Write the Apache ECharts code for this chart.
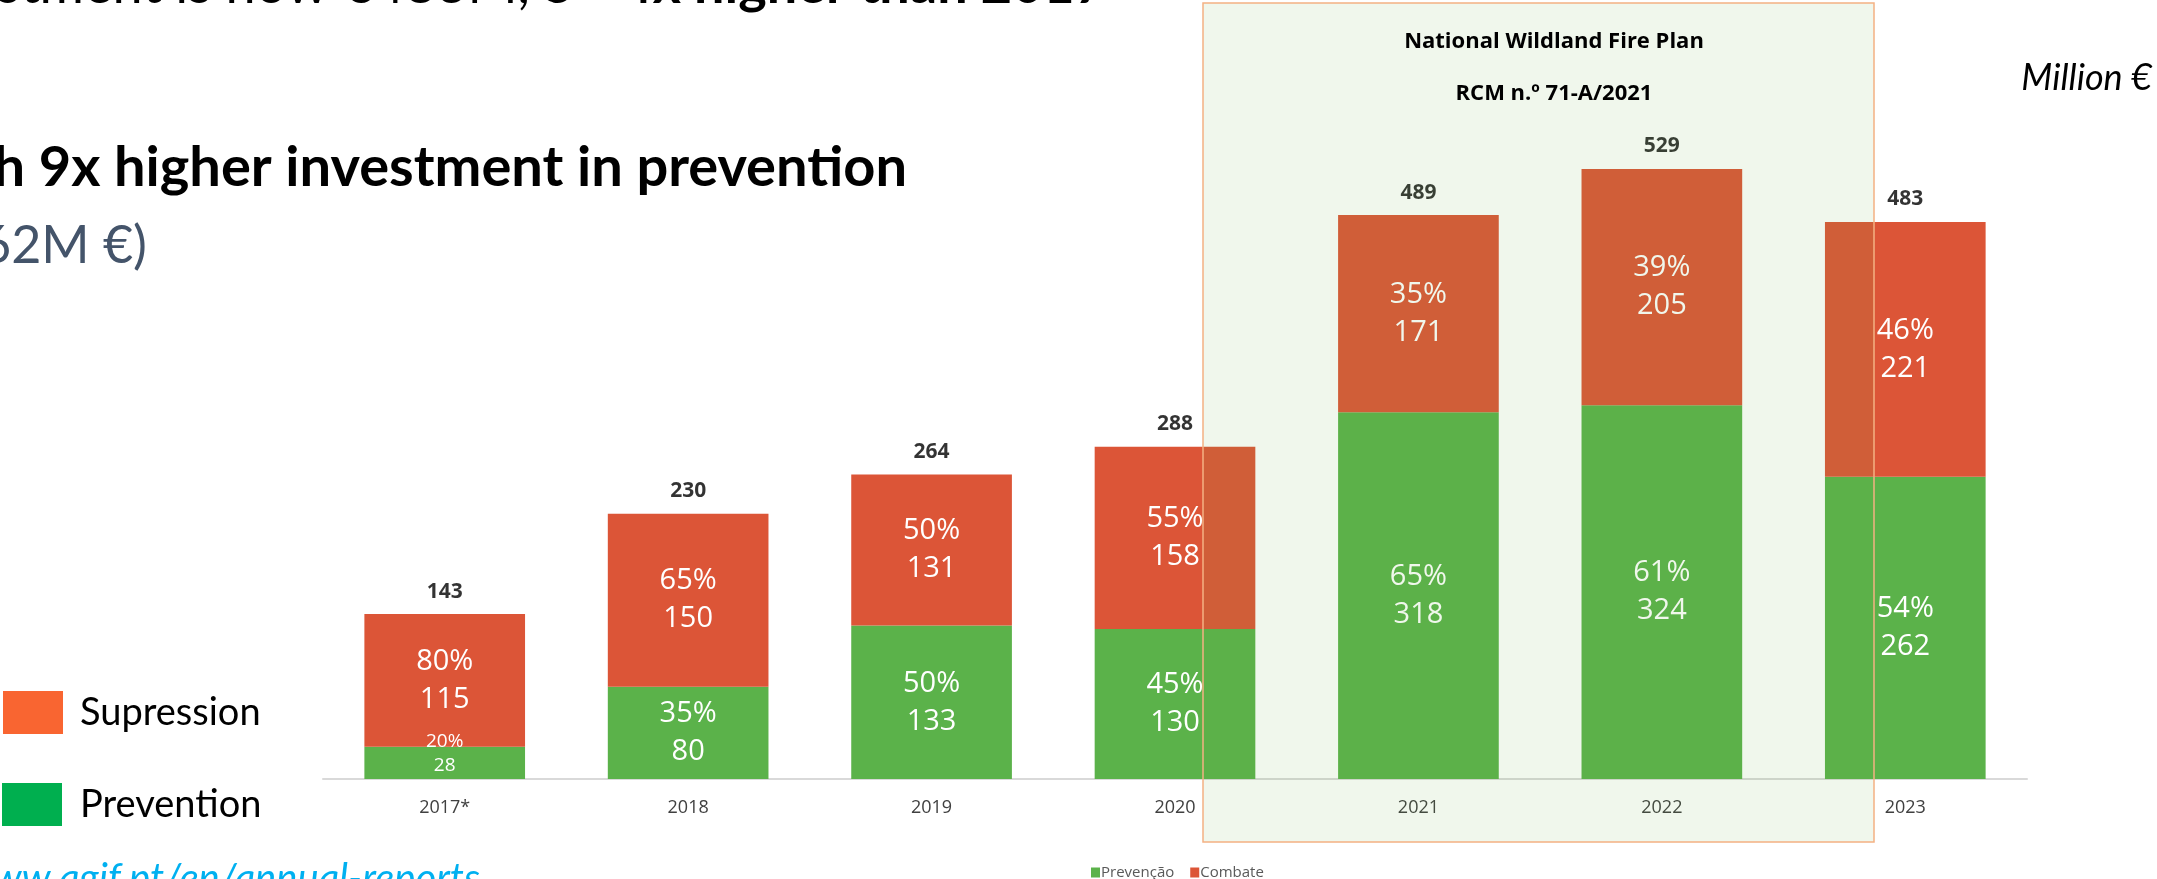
<!DOCTYPE html>
<html>
<head>
<meta charset="utf-8">
<script src="https://cdn.jsdelivr.net/npm/echarts@6/dist/echarts.min.js"></script>
<style>
  html, body { margin: 0; padding: 0; background: #fff; }
  #chart { width: 2157px; height: 879px; }
</style>
</head>
<body>
<div id="chart"></div>
<script>
// valores em milhões de euros
const years = ['2017*', '2018', '2019', '2020', '2021', '2022', '2023'];
const prevencao = [28, 80, 133, 130, 318, 324, 262];
const combate = [115, 150, 131, 158, 171, 205, 221];
const totals = [143, 230, 264, 288, 489, 529, 483];
const prevencaoPct = [20, 35, 50, 45, 65, 61, 54];
const combatePct = [80, 65, 50, 55, 35, 39, 46];

const GREEN = '#5bb24a';
const RED = '#dc5537';
const labelFont = '"Open Sans", "Noto Sans", sans-serif';
const slideFont = 'Lato, "Noto Sans", sans-serif';

const chart = echarts.init(document.getElementById('chart'));

// 2017 tem segmento verde pequeno -> rótulo menor
const prevData = prevencao.map((v, i) => i === 0
  ? { value: v, label: { fontSize: 19, lineHeight: 24, offset: [0, -9] } }
  : v);

const option = {
  backgroundColor: '#fff',
  animation: false,
  grid: { left: 323, right: 130, top: 87, bottom: 100 },
  legend: {
    data: ['Prevenção', 'Combate'],
    left: 1086,
    top: 860,
    itemWidth: 9,
    itemHeight: 10,
    itemGap: 16,
    icon: 'rect',
    textStyle: { fontFamily: labelFont, fontSize: 15, color: '#595959', padding: [0, 0, 0, -4] }
  },
  xAxis: {
    type: 'category',
    data: years,
    axisLine: { lineStyle: { color: '#d9d9d9', width: 2 } },
    axisTick: { show: false },
    axisLabel: { fontFamily: labelFont, fontSize: 18, color: '#404040', margin: 20 }
  },
  yAxis: {
    type: 'value',
    min: 0,
    max: 600,
    show: false
  },
  series: [
    {
      name: 'Prevenção',
      type: 'bar',
      stack: 'total',
      barWidth: '66%',
      itemStyle: { color: GREEN },
      data: prevData,
      label: {
        show: true,
        position: 'inside',
        color: '#fff',
        fontFamily: labelFont,
        fontSize: 29,
        lineHeight: 38,
        formatter: p => prevencaoPct[p.dataIndex] + '%\n' + p.value
      }
    },
    {
      name: 'Combate',
      type: 'bar',
      stack: 'total',
      itemStyle: { color: RED },
      data: combate,
      label: {
        show: true,
        position: 'inside',
        color: '#fff',
        fontFamily: labelFont,
        fontSize: 29,
        lineHeight: 38,
        formatter: p => combatePct[p.dataIndex] + '%\n' + p.value
      }
    },
    {
      name: 'Total',
      type: 'scatter',
      symbolSize: 0,
      data: totals,
      silent: true,
      label: {
        show: true,
        position: 'top',
        distance: 12,
        color: '#000',
        fontFamily: labelFont,
        fontWeight: 'bold',
        fontSize: 21
      }
    }
  ],
  graphic: [
    // caixa do Plano Nacional
    {
      type: 'rect',
      z: 100,
      silent: true,
      shape: { x: 1203, y: 3, width: 671, height: 839 },
      style: { fill: 'rgba(112,173,71,0.1)', stroke: '#f4b183', lineWidth: 1.5 }
    },
    {
      type: 'text', z: 101, x: 1554, y: 42,
      style: { text: 'National Wildland Fire Plan', align: 'center', verticalAlign: 'middle',
        font: 'bold 22px ' + labelFont, fill: '#000' }
    },
    {
      type: 'text', z: 101, x: 1554, y: 94,
      style: { text: 'RCM n.º 71-A/2021', align: 'center', verticalAlign: 'middle',
        font: 'bold 22px ' + labelFont, fill: '#000' }
    },
    {
      type: 'text', x: 2152, y: 78,
      style: { text: 'Million €', align: 'right', verticalAlign: 'middle',
        font: 'italic 36px ' + slideFont, fill: '#000' }
    },
    // textos do slide (cortados à esquerda)
    {
      type: 'text', x: 1106, y: 13,
      style: {
        text: '{n|Investment is now €483M, }{b|5 - 4x higher than 2017}',
        align: 'right', verticalAlign: 'bottom',
        rich: {
          n: { font: '54px ' + slideFont, fill: '#000' },
          b: { font: 'bold 54px ' + slideFont, fill: '#000' }
        }
      }
    },
    {
      type: 'text', x: 907, y: 168,
      style: { text: 'with 9x higher investment in prevention', align: 'right', verticalAlign: 'middle',
        font: 'bold 56px ' + slideFont, fill: '#000' }
    },
    {
      type: 'text', x: 147, y: 246,
      style: { text: '(262M €)', align: 'right', verticalAlign: 'middle',
        font: '52px ' + slideFont, fill: '#44546a' }
    },
    {
      type: 'rect', shape: { x: 3, y: 691, width: 60, height: 43 },
      style: { fill: '#f96531' }
    },
    {
      type: 'text', x: 80, y: 713,
      style: { text: 'Supression', verticalAlign: 'middle', font: '38px ' + slideFont, fill: '#000' }
    },
    {
      type: 'rect', shape: { x: 2, y: 783, width: 60, height: 43 },
      style: { fill: '#00af4f' }
    },
    {
      type: 'text', x: 80, y: 805,
      style: { text: 'Prevention', verticalAlign: 'middle', font: '38px ' + slideFont, fill: '#000' }
    },
    {
      type: 'text', x: 480, y: 879,
      style: { text: 'www.agif.pt/en/annual-reports', align: 'right', verticalAlign: 'middle',
        font: 'italic 40px ' + slideFont, fill: '#00b0f0' }
    }
  ]
};

chart.setOption(option);
window.addEventListener('resize', () => chart.resize());
</script>
</body>
</html>
